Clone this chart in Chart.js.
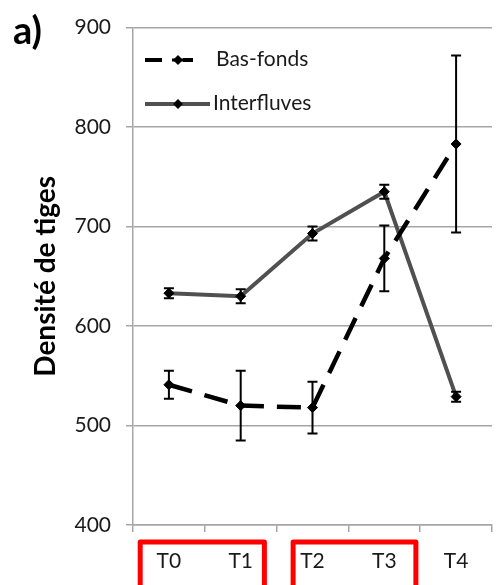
<!DOCTYPE html>
<html>
<head>
<meta charset="utf-8">
<script src="https://cdn.jsdelivr.net/npm/chart.js@4"></script>
<style>
  html, body { margin: 0; padding: 0; background: #fff; }
  #wrap { width: 500px; height: 585px; position: relative; }
</style>
</head>
<body>
<div id="wrap"><canvas id="c" width="500" height="585"></canvas></div>
<script>
// Sampling dates
const categories = ['T0', 'T1', 'T2', 'T3', 'T4'];

// Stem density means and standard errors
const basFonds = [541, 520, 518, 668, 783];
const basFondsErr = [14, 35, 26, 33, 89];
const interfluves = [633, 630, 693, 735, 529];
const interfluvesErr = [5, 7, 7, 7, 5];

// Y axis range and ticks
const yMin = 400;
const yMax = 900;
const yStep = 100;

// Grouped periods framed under the axis
const periodGroups = [['T0', 'T1'], ['T2', 'T3']];

const FONT = 'Lato, "Open Sans", sans-serif';
const TEXT = '#1a1a1a';
const GRID = '#a6a6a6';

const errorBarPlugin = {
  id: 'errorBars',
  afterDatasetsDraw(chart) {
    const ctx = chart.ctx;
    const x = chart.scales.x, y = chart.scales.y;
    const sets = [[basFonds, basFondsErr], [interfluves, interfluvesErr]];
    ctx.save();
    ctx.strokeStyle = '#000';
    ctx.lineWidth = 2;
    sets.forEach(([vals, errs]) => {
      vals.forEach((v, i) => {
        const px = x.getPixelForValue(i);
        const top = y.getPixelForValue(v + errs[i]);
        const bot = y.getPixelForValue(v - errs[i]);
        ctx.beginPath();
        ctx.moveTo(px, top); ctx.lineTo(px, bot);
        ctx.moveTo(px - 5, top); ctx.lineTo(px + 5, top);
        ctx.moveTo(px - 5, bot); ctx.lineTo(px + 5, bot);
        ctx.stroke();
      });
    });
    ctx.restore();
  }
};

function diamond(ctx, cx, cy, r) {
  ctx.beginPath();
  ctx.moveTo(cx, cy - r); ctx.lineTo(cx + r, cy);
  ctx.lineTo(cx, cy + r); ctx.lineTo(cx - r, cy);
  ctx.closePath(); ctx.fill();
}

const decorPlugin = {
  id: 'decor',
  afterDraw(chart) {
    const ctx = chart.ctx;
    const x = chart.scales.x;
    const area = chart.chartArea;
    ctx.save();

    // panel letter
    ctx.fillStyle = '#000';
    ctx.font = 'bold 38px ' + FONT;
    ctx.textBaseline = 'alphabetic';
    ctx.textAlign = 'left';
    ctx.fillText('a)', 13, 44);

    // legend
    const lx = area.left + 12;
    ctx.lineCap = 'butt';
    // Bas-fonds
    ctx.strokeStyle = '#000';
    ctx.fillStyle = '#000';
    ctx.lineWidth = 4;
    ctx.beginPath();
    ctx.moveTo(lx, 60); ctx.lineTo(lx + 17, 60);
    ctx.moveTo(lx + 38, 60); ctx.lineTo(lx + 48, 60);
    ctx.stroke();
    ctx.lineWidth = 3;
    ctx.beginPath(); ctx.moveTo(lx + 27, 60); ctx.lineTo(lx + 38, 60); ctx.stroke();
    diamond(ctx, lx + 33, 60, 5);
    // Interfluves
    ctx.strokeStyle = '#505050';
    ctx.lineWidth = 4;
    ctx.beginPath(); ctx.moveTo(lx, 104); ctx.lineTo(lx + 65, 104); ctx.stroke();
    ctx.fillStyle = '#000';
    diamond(ctx, lx + 33, 104, 5);

    ctx.fillStyle = TEXT;
    ctx.font = '21px ' + FONT;
    ctx.textBaseline = 'middle';
    ctx.fillText('Bas-fonds', lx + 71, 59);
    ctx.fillText('Interfluves', lx + 68, 103);

    // red frames around grouped periods
    const w = x.getPixelForValue(1) - x.getPixelForValue(0);
    ctx.strokeStyle = '#ff0000';
    ctx.lineWidth = 5;
    ctx.lineJoin = 'round';
    periodGroups.forEach((g, gi) => {
      const a = categories.indexOf(g[0]);
      const b = categories.indexOf(g[g.length - 1]);
      const left = x.getPixelForValue(a) - (gi === 0 ? 0.40 : 0.27) * w;
      const right = x.getPixelForValue(b) + (gi === 0 ? 0.33 : 0.44) * w;
      const top = 542;
      ctx.beginPath();
      ctx.moveTo(left, 600);
      ctx.lineTo(left, top);
      ctx.lineTo(right, top);
      ctx.lineTo(right, 600);
      ctx.stroke();
    });
    ctx.restore();
  }
};

new Chart(document.getElementById('c'), {
  type: 'line',
  data: {
    labels: categories,
    datasets: [
      {
        label: 'Interfluves',
        data: interfluves,
        borderColor: '#505050',
        borderWidth: 4,
        pointStyle: 'rectRot',
        pointRadius: 5,
        pointBackgroundColor: '#000',
        pointBorderColor: '#000',
        pointBorderWidth: 1,
        tension: 0,
        order: 2
      },
      {
        label: 'Bas-fonds',
        data: basFonds,
        borderColor: '#000',
        borderWidth: 4.5,
        borderDash: [24, 13],
        pointStyle: 'rectRot',
        pointRadius: 5,
        pointBackgroundColor: '#000',
        pointBorderColor: '#000',
        pointBorderWidth: 1,
        tension: 0,
        order: 1
      }
    ]
  },
  options: {
    responsive: false,
    animation: false,
    devicePixelRatio: 1,
    layout: { padding: { left: 0, top: 25, right: 8, bottom: 0 } },
    plugins: {
      legend: { display: false },
      tooltip: { enabled: false }
    },
    scales: {
      x: {
        offset: true,
        border: { color: GRID, width: 1.5 },
        grid: { offset: true, drawOnChartArea: false, drawTicks: true, tickLength: 7, color: GRID, lineWidth: 1.5 },
        ticks: { color: TEXT, font: { family: FONT, size: 21 }, padding: 17, maxRotation: 0 },
        afterFit(s) { s.height = 60; }
      },
      y: {
        min: yMin,
        max: yMax,
        border: { color: GRID, width: 1.5 },
        grid: { color: GRID, lineWidth: 1.5, tickLength: 7 },
        ticks: { stepSize: yStep, color: TEXT, font: { family: FONT, size: 21 }, padding: 15 },
        title: {
          display: true,
          text: 'Densité de tiges',
          color: '#000',
          font: { family: FONT, size: 28, weight: 'bold' },
          padding: { top: 29, bottom: 0 }
        },
        afterFit(s) { s.width = 133; }
      }
    }
  },
  plugins: [errorBarPlugin, decorPlugin]
});
</script>
</body>
</html>
